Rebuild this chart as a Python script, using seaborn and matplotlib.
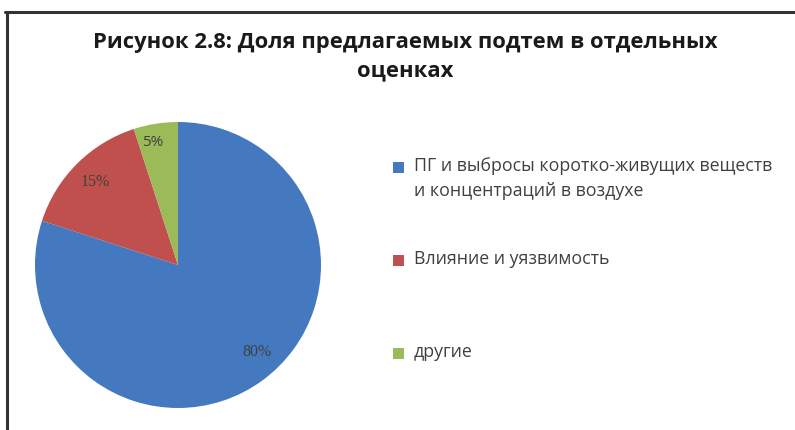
import matplotlib
matplotlib.use('agg')
from matplotlib import pyplot as plt
from matplotlib.lines import Line2D
from matplotlib.patches import Rectangle
import seaborn as sns

title = "Рисунок 2.8: Доля предлагаемых подтем в отдельных\nоценках"
categories = ["ПГ и выбросы коротко-живущих веществ\nи концентраций в воздухе",
              "Влияние и уязвимость",
              "другие"]
shares = [80, 15, 5]
colors = ["#4579BF", "#C0504D", "#9BBB59"]

sns.set_theme(style="white")
plt.rcParams['font.family'] = ['Open Sans', 'DejaVu Sans']

W, H = 795, 430
fig = plt.figure(figsize=(W / 100, H / 100), dpi=100)

# pie centre (178, 265) px, radius 143 px
cx, cy, r = 178, 265, 143
lim = 1.02
side = 2 * lim * r
ax = fig.add_axes([(cx - lim * r) / W, (H - cy - lim * r) / H, side / W, side / H])
wedges, texts = ax.pie(shares, colors=colors, startangle=90, counterclock=False,
                       labels=[f"{v}%" for v in shares], labeldistance=0.82,
                       wedgeprops=dict(linewidth=0))
for t, fam, fs in zip(texts, ['Liberation Serif', 'Liberation Serif', 'Open Sans'],
                      [11.5, 11.5, 11]):
    t.set_color("#404040")
    t.set_fontsize(fs)
    t.set_family(fam)
    t.set_ha('center')
    t.set_va('center')
# label offsets as in the original (not exactly at wedge mid-angle)
texts[0].set_position((0.55, -0.61))
texts[2].set_position((texts[2].get_position()[0] - 0.05, 0.86))
ax.set_xlim(-lim, lim)
ax.set_ylim(-lim, lim)
ax.set_aspect('equal')
ax.axis('off')

fig.text(405 / W, 1 - 57 / H, title, ha='center', va='center', fontsize=15.8,
         fontweight='bold', color='#1a1a1a', linespacing=1.45)

# legend
ys = [167, 260, 353]
for lab, col, y in zip(categories, colors, ys):
    fig.add_artist(Rectangle((393 / W, 1 - (y + 5.5) / H), 11 / W, 11 / H,
                             transform=fig.transFigure, color=col, lw=0))
    fig.text(414 / W, 1 - (y - 10) / H, lab, ha='left', va='top', fontsize=12.8,
             color='#404040', linespacing=1.48)

# frame lines
fig.add_artist(Line2D([5 / W, 1], [1 - 11.5 / H] * 2, transform=fig.transFigure,
                      color='#333333', lw=2.2))
fig.add_artist(Line2D([7 / W] * 2, [0, 1 - 11.5 / H], transform=fig.transFigure,
                      color='#333333', lw=2.2))

fig.savefig("out.png", dpi=100)
